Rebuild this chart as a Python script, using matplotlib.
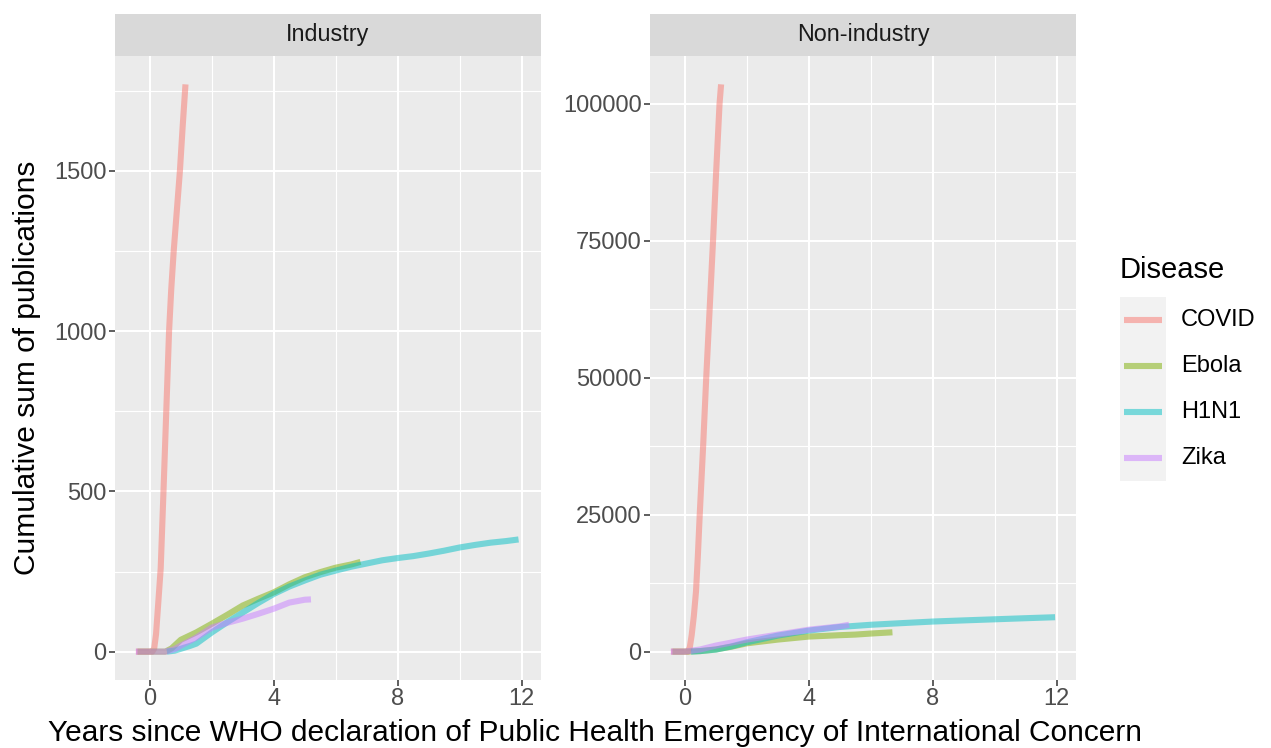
import matplotlib
matplotlib.use("Agg")
import matplotlib.pyplot as plt
from matplotlib.lines import Line2D
from matplotlib.patches import Rectangle

plt.rcParams['font.family'] = ['Liberation Sans', 'DejaVu Sans']

diseases = ["COVID", "Ebola", "H1N1", "Zika"]
colors = ["#F8766D", "#7CAE00", "#00BFC4", "#C77CFF"]
panels = ["Industry", "Non-industry"]

# Industry panel
ind_covid_x = [-0.45, 0.0, 0.08, 0.14, 0.2, 0.27, 0.35, 0.44, 0.53, 0.62, 0.69, 0.77, 0.87, 0.97, 1.06, 1.15]
ind_covid_y = [0, 0, 0, 10, 55, 150, 260, 500, 750, 1000, 1130, 1250, 1375, 1500, 1640, 1770]
ind_ebola_x = [-0.4, 0.5, 0.7, 1.0, 1.5, 2.0, 2.5, 3.0, 3.5, 4.0, 4.5, 5.0, 5.5, 6.0, 6.5, 6.8]
ind_ebola_y = [0, 0, 10, 37, 60, 87, 115, 144, 165, 185, 210, 232, 248, 262, 272, 280]
ind_h1n1_x = [0.55, 0.8, 1.0, 1.3, 1.5, 2.0, 2.5, 3.0, 3.5, 4.0, 4.5, 5.0, 5.5, 6.0, 6.5, 7.0,
              7.5, 8.0, 8.5, 9.0, 9.5, 10.0, 10.5, 11.0, 11.5, 11.9]
ind_h1n1_y = [0, 3, 9, 18, 25, 60, 92, 122, 152, 180, 203, 222, 240, 253, 265, 275,
              285, 292, 298, 306, 315, 325, 333, 340, 345, 350]
ind_zika_x = [-0.45, 0.5, 0.8, 1.0, 1.5, 2.0, 2.5, 3.0, 3.5, 4.0, 4.5, 5.0, 5.2]
ind_zika_y = [0, 0, 8, 19, 44, 75, 90, 103, 118, 134, 153, 162, 163]

# Non-industry panel
non_covid_x = [-0.45, 0.0, 0.1, 0.16, 0.22, 0.29, 0.36, 0.42, 0.48, 0.59, 0.69, 0.8, 0.91, 1.01, 1.12, 1.17]
non_covid_y = [0, 0, 0, 800, 3000, 6500, 11000, 17500, 25000, 37500, 50000, 62500, 75000, 87500, 100000, 103500]
non_ebola_x = [-0.4, 0.0, 0.5, 1.0, 1.5, 2.0, 3.0, 4.0, 5.0, 5.5, 6.0, 6.7]
non_ebola_y = [0, 0, 100, 400, 900, 1520, 2200, 2750, 3000, 3110, 3300, 3530]
non_h1n1_x = [0.2, 0.5, 1.0, 1.5, 2.0, 3.0, 4.0, 5.0, 6.0, 7.0, 8.0, 9.0, 10.0, 11.0, 11.95]
non_h1n1_y = [0, 100, 370, 950, 1700, 2930, 3840, 4500, 4900, 5200, 5490, 5700, 5900, 6100, 6280]
non_zika_x = [-0.45, 0.0, 0.5, 1.0, 2.0, 3.0, 4.0, 5.0, 5.3]
non_zika_y = [0, 0, 400, 1100, 2200, 3100, 4000, 4600, 4900]

panel_data = [
    [(ind_covid_x, ind_covid_y), (ind_ebola_x, ind_ebola_y), (ind_h1n1_x, ind_h1n1_y), (ind_zika_x, ind_zika_y)],
    [(non_covid_x, non_covid_y), (non_ebola_x, non_ebola_y), (non_h1n1_x, non_h1n1_y), (non_zika_x, non_zika_y)],
]
yticks = [[0, 500, 1000, 1500], [0, 25000, 50000, 75000, 100000]]
yminor = [[250, 750, 1250, 1750], [12500, 37500, 62500, 87500]]
xticks = [0, 4, 8, 12]
xminor = [2, 6, 10]

W, H = 1271, 748
fig = plt.figure(figsize=(W / 100, H / 100), dpi=100)

def fx(px):
    return px / W

def fy(py):
    return 1 - py / H

panel_left = [115, 650]
panel_w = 426
top, bottom = 56, 680
strip_top = 14

for i, name in enumerate(panels):
    ax = fig.add_axes([fx(panel_left[i]), fy(bottom), panel_w / W, (bottom - top) / H])
    ax.set_facecolor("#EBEBEB")
    for s in ax.spines.values():
        s.set_visible(False)
    for (xs, ys), c in zip(panel_data[i], colors):
        ax.plot(xs, ys, color=c, alpha=0.5, lw=4.4, solid_capstyle="butt", solid_joinstyle="round")
    ymax = max(max(ys) for _, ys in panel_data[i])
    ymin = 0
    xr = 12.5
    ax.set_xlim(-0.5 - 0.05 * xr, 12 + 0.05 * xr)
    ax.set_ylim(ymin - 0.05 * (ymax - ymin), ymax + 0.05 * (ymax - ymin))
    ax.set_xticks(xticks)
    ax.set_xticks(xminor, minor=True)
    ax.set_yticks(yticks[i])
    ax.set_yticks(yminor[i], minor=True)
    ax.grid(which="major", color="white", lw=1.5)
    ax.grid(which="minor", color="white", lw=0.8)
    ax.set_axisbelow(True)
    ax.tick_params(which="major", length=4, width=1.1, color="#333333",
                   labelcolor="#4D4D4D", labelsize=17, pad=2)
    ax.tick_params(which="minor", length=0)
    ax.set_yticklabels([str(v) for v in yticks[i]])
    # strip
    sax = fig.add_axes([fx(panel_left[i]), fy(top), panel_w / W, (top - strip_top) / H])
    sax.set_facecolor("#D9D9D9")
    sax.set_xticks([])
    sax.set_yticks([])
    for s in sax.spines.values():
        s.set_visible(False)
    sax.text(0.5, 0.5, name, ha="center", va="center", fontsize=16.8, color="#1A1A1A",
             transform=sax.transAxes)

fig.text(fx(27), fy(368), "Cumulative sum of publications", rotation=90,
         ha="center", va="center", fontsize=21.5, color="black")
fig.text(fx(595), fy(733), "Years since WHO declaration of Public Health Emergency of International Concern",
         ha="center", va="center", fontsize=21.5, color="black")

# legend
fig.text(fx(1120), fy(270), "Disease", ha="left", va="center", fontsize=21, color="black")
key_top = 297
key_h = 46
fig.patches.append(Rectangle((fx(1120), fy(key_top + key_h * 4)), 46 / W, key_h * 4 / H,
                             transform=fig.transFigure, facecolor="#F2F2F2", edgecolor="none"))
for k, (d, c) in enumerate(zip(diseases, colors)):
    yc = key_top + key_h * k + key_h / 2
    fig.lines.append(Line2D([fx(1124), fx(1162)], [fy(yc), fy(yc)], transform=fig.transFigure,
                            color=c, alpha=0.5, lw=4.4, solid_capstyle="butt"))
    fig.text(fx(1181), fy(yc), d, ha="left", va="center", fontsize=17, color="black")

fig.savefig("out.png", dpi=100)
